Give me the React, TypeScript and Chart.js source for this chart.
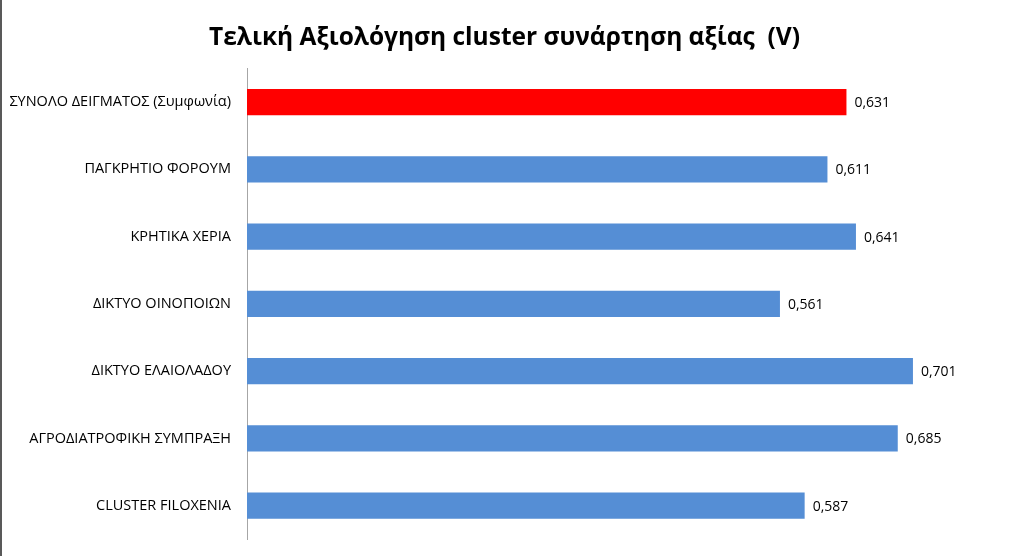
import { Chart, registerables } from "chart.js";
import { useEffect, useRef } from "react";

Chart.register(...registerables);

const categories = [
  "ΣΥΝΟΛΟ ΔΕΙΓΜΑΤΟΣ (Συμφωνία)",
  "ΠΑΓΚΡΗΤΙΟ ΦΟΡΟΥΜ",
  "ΚΡΗΤΙΚΑ ΧΕΡΙΑ",
  "ΔΙΚΤΥΟ ΟΙΝΟΠΟΙΩΝ",
  "ΔΙΚΤΥΟ ΕΛΑΙΟΛΑΔΟΥ",
  "ΑΓΡΟΔΙΑΤΡΟΦΙΚΗ ΣΥΜΠΡΑΞΗ",
  "CLUSTER FILOXENIA",
];
const values = [0.631, 0.611, 0.641, 0.561, 0.701, 0.685, 0.587];
const barColors = ["#ff0000", "#558ed5", "#558ed5", "#558ed5", "#558ed5", "#558ed5", "#558ed5"];

const FONT = "'Open Sans', 'Noto Sans', sans-serif";

// value labels at the end of each bar, Greek decimal comma
const valueLabels = {
  id: "valueLabels",
  afterDatasetsDraw(chart: any) {
    const { ctx } = chart;
    const meta = chart.getDatasetMeta(0);
    ctx.save();
    ctx.font = `14px ${FONT}`;
    ctx.fillStyle = "#000";
    ctx.textBaseline = "middle";
    ctx.textAlign = "left";
    meta.data.forEach((bar: any, i: number) => {
      ctx.fillText(values[i].toFixed(3).replace(".", ","), bar.x + 8, bar.y + 1);
    });
    ctx.restore();
  },
};

export default function App() {
  const chartRef = useRef<HTMLCanvasElement>(null);

  useEffect(() => {
    if (!chartRef.current) return;
    const chart = new Chart(chartRef.current, {
      type: "bar",
      data: {
        labels: categories,
        datasets: [
          {
            data: values,
            backgroundColor: barColors,
            categoryPercentage: 1,
            barPercentage: 0.39,
          },
        ],
      },
      options: {
        indexAxis: "y",
        animation: false,
        responsive: true,
        maintainAspectRatio: false,
        layout: { padding: { left: 0, right: 17, bottom: 13, top: 0 } },
        plugins: {
          legend: { display: false },
          tooltip: { enabled: false },
          title: {
            display: true,
            text: "Τελική Αξιολόγηση cluster συνάρτηση αξίας  (V)",
            color: "#000",
            font: { family: FONT, size: 24.5, weight: "bold" },
            padding: { top: 23, bottom: 16 },
          },
        },
        scales: {
          x: { display: false, min: 0, max: 0.8 },
          y: {
            grid: { display: false },
            border: { display: true, color: "#a6a6a6", width: 1 },
            ticks: {
              color: "#000",
              padding: 8,
              font: { family: FONT, size: 14.5 },
            },
            afterFit(scale: any) {
              scale.width = 245;
            },
          },
        },
      },
      plugins: [valueLabels],
    });
    return () => chart.destroy();
  }, []);

  return (
    <div
      style={{
        position: "fixed",
        left: 0,
        top: 0,
        width: 1024,
        height: 556,
        background: "#fff",
        borderLeft: "2px solid #595959",
        boxSizing: "border-box",
      }}
    >
      <canvas ref={chartRef}></canvas>
    </div>
  );
}
